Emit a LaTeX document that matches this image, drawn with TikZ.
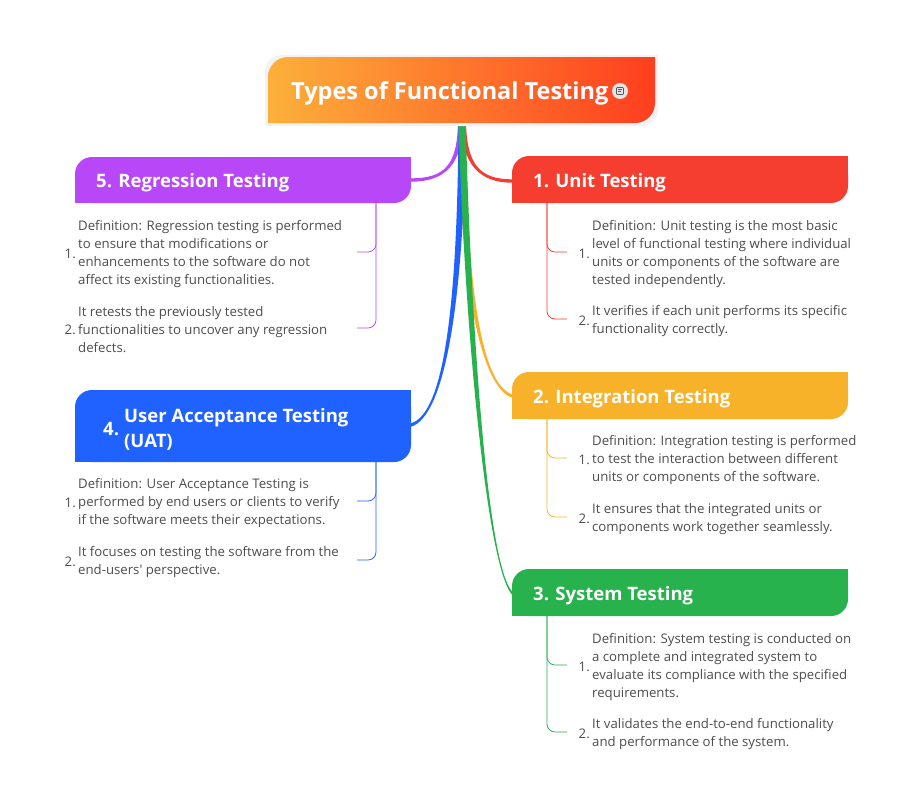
\documentclass[tikz,border=0pt]{standalone}
\usepackage{fontspec}
\setmainfont{Open Sans}
\usetikzlibrary{calc}
\definecolor{cRed}{HTML}{F63E30}
\definecolor{cOrange}{HTML}{F7B22A}
\definecolor{cGreen}{HTML}{27B24D}
\definecolor{cBlue}{HTML}{1F62FF}
\definecolor{cPurple}{HTML}{B847F8}
\definecolor{leafgray}{HTML}{4D4D4D}
\definecolor{titleL}{HTML}{FCB03A}
\definecolor{titleR}{HTML}{FF3E1F}
\newcommand\mmbox[5]{%
  \fill[#1, rounded corners=17pt] (#2,#3) rectangle (#4,#5);
  \fill[#1] (#4-17,#3) rectangle (#4,#3+17);
  \fill[#1] (#2,#5-17) rectangle (#2+17,#5);}
\newcommand\branchE[6]{% color, start, c1, c2, end, halfwidth-start
  \fill[#1] ($(#2)+(-#6,0)$) .. controls ($(#3)+(-#6,0)$) and ($(#4)+(0,1.7)$) .. ($(#5)+(0,1.7)$)
     -- ($(#5)+(0,-1.7)$) .. controls ($(#4)+(0,-1.7)$) and ($(#3)+(#6,0)$) .. ($(#2)+(#6,0)$) -- cycle;}
\newcommand\branchW[6]{%
  \fill[#1] ($(#2)+(-#6,0)$) .. controls ($(#3)+(-#6,0)$) and ($(#4)+(0,-1.7)$) .. ($(#5)+(0,-1.7)$)
     -- ($(#5)+(0,1.7)$) .. controls ($(#4)+(0,1.7)$) and ($(#3)+(#6,0)$) .. ($(#2)+(#6,0)$) -- cycle;}
\begin{document}
\begin{tikzpicture}[x=1pt,y=-1pt,
  leaf/.style={font=\fontsize{13.2}{18}\selectfont, text=leafgray, align=left, inner sep=0pt, anchor=west},
  num/.style={font=\fontsize{13.2}{18}\selectfont, text=leafgray, inner sep=0pt, anchor=east},
  boxtext/.style={font=\bfseries\fontsize{18.5}{25}\selectfont, text=white, inner sep=0pt, anchor=west, align=left},
  stub/.style={line width=0.75pt, rounded corners=8pt}]
\useasboundingbox (0,0) rectangle (923,803);
\fill[white] (0,0) rectangle (923,803);
% ---------- anchor coordinates ----------
\coordinate (trunk) at (462,121);
\coordinate (trunkL) at (460.5,121);
\coordinate (trunkR) at (463.5,121);
\coordinate (unitIn) at (512,181);
\coordinate (integIn) at (512,396);
\coordinate (sysIn) at (512,593);
\coordinate (regIn) at (411,180);
\coordinate (uatIn) at (411,425);
% ---------- main branches ----------
\branchE{cRed}{trunkR}{464,165}{480,181}{unitIn}{2.5}
\branchW{cPurple}{trunkL}{460,165}{445,180}{regIn}{2.5}
\branchE{cOrange}{trunk}{463,280}{480,385}{integIn}{3.5}
\branchW{cBlue}{trunk}{461,300}{445,415}{uatIn}{3.5}
\branchE{cGreen}{trunk}{468,330}{487,565}{sysIn}{3.5}
% ---------- title ----------
\mmbox{black!5}{265}{55}{658}{126}
\shade[left color=titleL, right color=titleR] [rounded corners=20pt]
  (268,57) rectangle (655,123) [sharp corners] (635,57) rectangle (655,77) (268,103) rectangle (288,123);
\node[font=\bfseries\fontsize{23.5}{28}\selectfont, text=white, inner sep=0pt, anchor=west] (title) at (291,93.5) {Types of Functional Testing};
\node[circle, fill=black!10, minimum size=16pt, inner sep=0pt] (icon) at (620,91) {};
\draw[black!65, line width=0.7pt, rounded corners=0.8pt] (616.5,87.5) rectangle (623.5,94.5);
\draw[black!65, line width=0.6pt] (618,89.5) -- (622,89.5) (618,91.5) -- (621,91.5);
% ---------- boxes ----------
\mmbox{cRed}{512}{156}{848}{203}
\mmbox{cOrange}{512}{372}{848}{419}
\mmbox{cGreen}{512}{569}{848}{616}
\mmbox{cPurple}{75}{157}{411}{203}
\mmbox{cBlue}{75}{390}{411}{462}
\node[boxtext] (unit) at (533,182.5) {1. Unit Testing};
\node[boxtext] (integ) at (533,398.5) {2. Integration Testing};
\node[boxtext] (sys) at (533,595.5) {3. System Testing};
\node[boxtext] (reg) at (96,182.5) {5. Regression Testing};
\node[boxtext] (uatnum) at (103,429.5) {4.};
\node[boxtext] (uat) at (124,429.5) {User Acceptance Testing\\(UAT)};
% ---------- leaf coordinates ----------
\coordinate (unitB) at (547,203);
\coordinate (integB) at (547,419);
\coordinate (sysB) at (547,616);
\coordinate (regB) at (376,203);
\coordinate (uatB) at (376,462);
% ---------- leaves: Unit ----------
\node[num] (u1n) at (590,254) {1.};
\node[leaf] (u1) at (592,254) {Definition: Unit testing is the most basic\\level of functional testing where individual\\units or components of the software are\\tested independently.};
\node[num] (u2n) at (590,321) {2.};
\node[leaf] (u2) at (592,321) {It verifies if each unit performs its specific\\functionality correctly.};
\coordinate (u1e) at (567,252);
\coordinate (u2e) at (567,319);
\draw[stub, cRed] (unitB) |- (u1e);
\draw[stub, cRed] (unitB) |- (u2e);
% ---------- leaves: Integration ----------
\node[num] (i1n) at (590,460) {1.};
\node[leaf] (i1) at (592,460) {Definition: Integration testing is performed\\to test the interaction between different\\units or components of the software.};
\node[num] (i2n) at (590,519) {2.};
\node[leaf] (i2) at (592,519) {It ensures that the integrated units or\\components work together seamlessly.};
\coordinate (i1e) at (567,458);
\coordinate (i2e) at (567,517);
\draw[stub, cOrange] (integB) |- (i1e);
\draw[stub, cOrange] (integB) |- (i2e);
% ---------- leaves: System ----------
\node[num] (s1n) at (590,667) {1.};
\node[leaf] (s1) at (592,667) {Definition: System testing is conducted on\\a complete and integrated system to\\evaluate its compliance with the specified\\requirements.};
\node[num] (s2n) at (590,734) {2.};
\node[leaf] (s2) at (592,734) {It validates the end-to-end functionality\\and performance of the system.};
\coordinate (s1e) at (567,665);
\coordinate (s2e) at (567,732);
\draw[stub, cGreen] (sysB) |- (s1e);
\draw[stub, cGreen] (sysB) |- (s2e);
% ---------- leaves: Regression ----------
\node[num] (r1n) at (76,254) {1.};
\node[leaf] (r1) at (78,254) {Definition: Regression testing is performed\\to ensure that modifications or\\enhancements to the software do not\\affect its existing functionalities.};
\node[num] (r2n) at (76,330) {2.};
\node[leaf] (r2) at (78,330) {It retests the previously tested\\functionalities to uncover any regression\\defects.};
\coordinate (r1e) at (357,252);
\coordinate (r2e) at (357,328);
\draw[stub, cPurple] (regB) |- (r1e);
\draw[stub, cPurple] (regB) |- (r2e);
% ---------- leaves: UAT ----------
\node[num] (a1n) at (76,503) {1.};
\node[leaf] (a1) at (78,503) {Definition: User Acceptance Testing is\\performed by end users or clients to verify\\if the software meets their expectations.};
\node[num] (a2n) at (76,562) {2.};
\node[leaf] (a2) at (78,562) {It focuses on testing the software from the\\end-users\textquotesingle\ perspective.};
\coordinate (a1e) at (357,501);
\coordinate (a2e) at (357,560);
\draw[stub, cBlue] (uatB) |- (a1e);
\draw[stub, cBlue] (uatB) |- (a2e);
\end{tikzpicture}
\end{document}
